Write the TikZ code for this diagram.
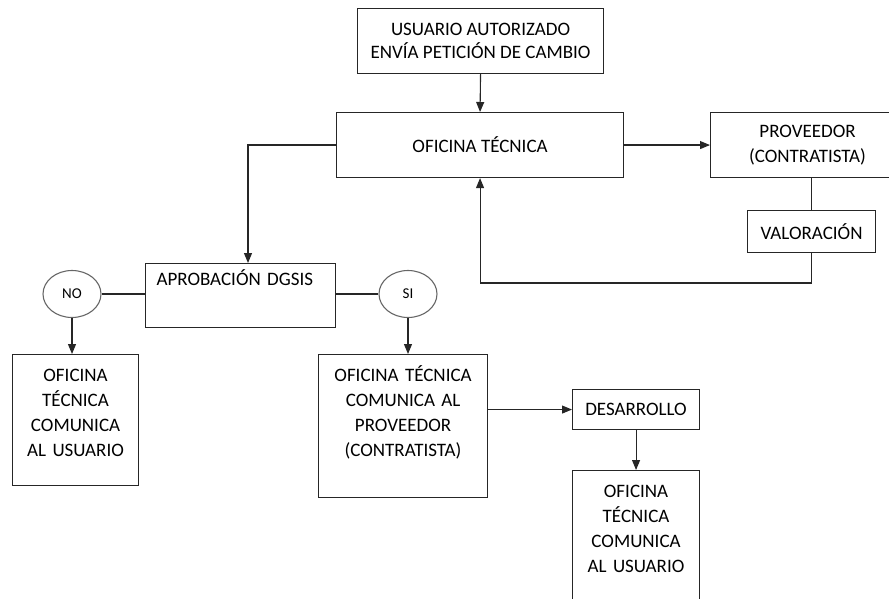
\documentclass[tikz,border=0pt]{standalone}
\usepackage{tikz}
\usepackage{xcolor}
\usepackage{fontspec}
\setmainfont{Carlito}
\usetikzlibrary{arrows.meta,shapes.geometric}

\begin{document}
\begin{tikzpicture}[x=1pt,y=-1pt,line width=1.1pt,
  caja/.style={draw=black!85,rectangle,inner sep=0pt,anchor=north west,align=center,font=\fontsize{19}{25}\selectfont},
  cajaalta/.style={caja,text height=27pt},
  decision/.style={draw=black!60,ellipse,inner sep=0pt,minimum width=58pt,minimum height=47pt,font=\fontsize{15}{18}\selectfont},
  flecha/.style={draw=black!85,-{Triangle[length=10pt,width=8pt]}},
  linea/.style={draw=black!85}]
\useasboundingbox (0,0) rectangle (889,599);
\node [caja,minimum width=246pt,minimum height=65pt,font=\fontsize{19}{23}\selectfont] (usuario) at (357,8) {USUARIO AUTORIZADO\\ENVÍA PETICIÓN DE CAMBIO};
\node [caja,minimum width=287pt,minimum height=65pt] (oficina) at (336,112) {OFICINA TÉCNICA};
\node [caja,minimum width=194pt,minimum height=65pt] (proveedor) at (710,112) {PROVEEDOR\\(CONTRATISTA)};
\node [caja,minimum width=128pt,minimum height=42pt] (valoracion) at (747,210) {VALORACIÓN};
\node [caja,align=left,inner xsep=11pt,text width=168pt,text height=22pt,text depth=42pt] (aprobacion) at (145,263) {APROBACIÓN DGSIS};
\node [decision] (no) at (72,294) {NO};
\node [decision] (si) at (408,294) {SI};
\node [cajaalta,text width=126pt,text depth=104pt] (comunicano) at (12,354) {OFICINA\\TÉCNICA\\COMUNICA\\AL USUARIO};
\node [cajaalta,text width=169pt,text depth=116pt] (comunicasi) at (318,354) {OFICINA TÉCNICA\\COMUNICA AL\\PROVEEDOR\\(CONTRATISTA)};
\node [caja,minimum width=127pt,minimum height=40pt] (desarrollo) at (572,389) {DESARROLLO};
\node [cajaalta,text width=127pt,text depth=115pt] (comunicafin) at (572,470) {OFICINA\\TÉCNICA\\COMUNICA\\AL USUARIO};
\coordinate (giro) at (0,283);
\coordinate (bajada) at (248,263);
\draw [flecha] (usuario.south) -- (oficina.north);
\draw [flecha] (oficina.east) -- (proveedor.west);
\draw [linea] (valoracion.north) -- (valoracion.north |- proveedor.south);
\draw [flecha] (valoracion.south) |- (oficina.south |- giro) -- (oficina.south);
\draw [flecha] (oficina.west) -| (bajada);
\draw [linea] (no.east) -- (no.east -| aprobacion.west);
\draw [linea] (si.west -| aprobacion.east) -- (si.west);
\draw [flecha] (no.south) -- (no.south |- comunicano.north);
\draw [flecha] (si.south) -- (si.south |- comunicasi.north);
\draw [flecha] (comunicasi.east |- desarrollo.west) -- (desarrollo.west);
\draw [flecha] (desarrollo.south) -- (comunicafin.north);
\end{tikzpicture}
\end{document}
